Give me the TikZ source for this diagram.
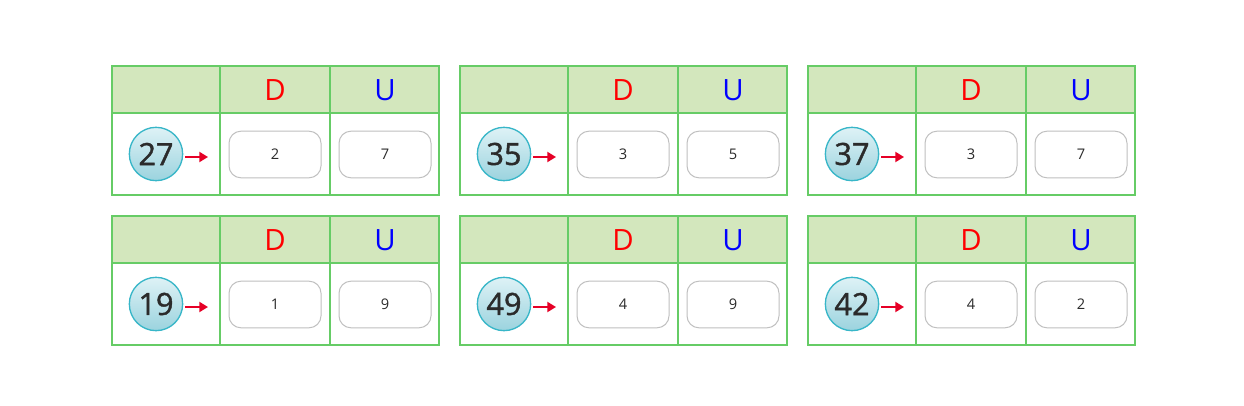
\documentclass[tikz,border=0pt]{standalone}
\usepackage{fontspec}
\setmainfont{Open Sans}
\newfontfamily\ballfont{Open Sans}[FakeBold=1.3]
\usetikzlibrary{arrows.meta}
\definecolor{gborder}{RGB}{102,204,102}
\definecolor{hfill}{RGB}{211,231,189}
\definecolor{boxgray}{RGB}{192,192,192}
\definecolor{ringc}{RGB}{56,182,200}
\definecolor{balltop}{RGB}{222,242,246}
\definecolor{ballbot}{RGB}{155,211,222}
\definecolor{arrred}{RGB}{230,0,38}
\definecolor{numc}{RGB}{43,43,43}
\definecolor{dred}{RGB}{255,0,0}
\definecolor{ublue}{RGB}{0,0,255}
\begin{document}
\begin{tikzpicture}[x=0.75pt,y=-0.75pt,
  gridline/.style={draw=gborder,line width=1.2pt},
  hdr/.style={fill=hfill},
  ansbox/.style={draw=boxgray,line width=0.75pt,rounded corners=9pt,minimum width=69pt,minimum height=35pt,inner sep=0pt,font=\fontsize{11}{13}\selectfont,text=numc},
  ball/.style={circle,draw=ringc,line width=1pt,top color=balltop,bottom color=ballbot,minimum size=40pt,inner sep=0pt,font=\ballfont\fontsize{23}{27}\selectfont,text=numc},
  letter/.style={inner sep=0pt,font=\fontsize{22}{26}\selectfont},
  arr/.style={draw=arrred,line width=1.5pt,-{Triangle[length=6.5pt,width=7.5pt]}}]
\useasboundingbox[fill=white] (0,0) rectangle (1244,406);
\foreach \x/\y/\n/\d/\u/\i in {112/66/27/2/7/a,460/66/35/3/5/b,808/66/37/3/7/c,112/216/19/1/9/d,460/216/49/4/9/e,808/216/42/4/2/f}{
  \fill[hdr] (\x,\y) rectangle ({\x+327},{\y+47});
  \draw[gridline] (\x,\y) rectangle ({\x+327},{\y+129});
  \draw[gridline] (\x,{\y+47}) -- ({\x+327},{\y+47});
  \draw[gridline] ({\x+108},\y) -- ({\x+108},{\y+129});
  \draw[gridline] ({\x+218},\y) -- ({\x+218},{\y+129});
  \node[letter,text=dred] (hd\i) at ({\x+163},{\y+24}) {D};
  \node[letter,text=ublue] (hu\i) at ({\x+273},{\y+24}) {U};
  \node[ball] (ball\i) at ({\x+44},{\y+88}) {\n};
  \node[ansbox] (bd\i) at ({\x+163},{\y+88.5}) {\d};
  \node[ansbox] (bu\i) at ({\x+273},{\y+88.5}) {\u};
  \coordinate (t\i) at ({\x+96},{\y+91});
  \draw[arr] ([shift={(2,3)}]ball\i.east) -- (t\i);
}
\end{tikzpicture}
\end{document}
